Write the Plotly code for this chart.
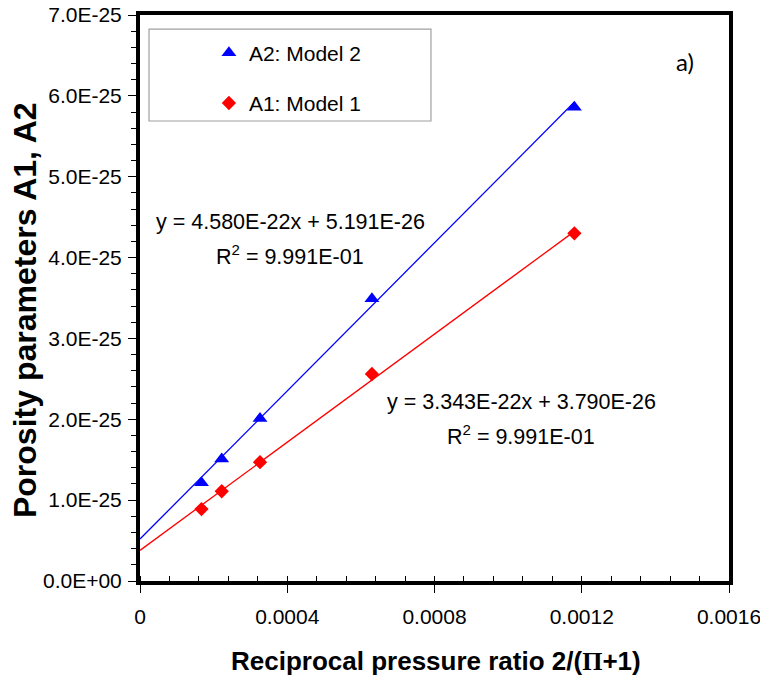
import plotly.graph_objects as go

# reciprocal pressure ratio 2/(Pi+1)
x_vals = [0.000167, 0.000222, 0.000326, 0.000630, 0.001180]

# porosity parameters
a2_vals = [1.215e-25, 1.51e-25, 2.01e-25, 3.49e-25, 5.86e-25]
a1_vals = [0.89e-25, 1.11e-25, 1.47e-25, 2.56e-25, 4.30e-25]

# linear trendlines as printed on the chart
a2_slope, a2_icpt = 4.580e-22, 5.191e-26
a1_slope, a1_icpt = 3.343e-22, 3.790e-26

x_ticks = [0, 0.0004, 0.0008, 0.0012, 0.0016]
x_labels = ["0", "0.0004", "0.0008", "0.0012", "0.0016"]
y_ticks = [i * 1e-25 for i in range(8)]
y_labels = ["0.0E+00", "1.0E-25", "2.0E-25", "3.0E-25", "4.0E-25",
            "5.0E-25", "6.0E-25", "7.0E-25"]

FONT = "Liberation Sans, Arial, sans-serif"
BLUE = "#0000ff"
RED = "#ff0000"

line_x = [0, max(x_vals)]

fig = go.Figure()

fig.add_trace(go.Scatter(x=line_x, y=[a2_icpt + a2_slope * v for v in line_x],
                         mode="lines", line=dict(color=BLUE, width=1.3),
                         showlegend=False, hoverinfo="skip"))
fig.add_trace(go.Scatter(x=line_x, y=[a1_icpt + a1_slope * v for v in line_x],
                         mode="lines", line=dict(color=RED, width=1.3),
                         showlegend=False, hoverinfo="skip"))

fig.add_trace(go.Scatter(x=x_vals, y=a2_vals, mode="markers", name="A2: Model 2",
                         legendgroup="a2",
                         marker=dict(symbol="triangle-up", size=13, color=BLUE)))
fig.add_trace(go.Scatter(x=x_vals, y=a1_vals, mode="markers", name="A1: Model 1",
                         legendgroup="a1",
                         marker=dict(symbol="diamond", size=11, color=RED)))

# equation labels
eq_font = dict(family=FONT, size=21.5, color="black")
fig.add_annotation(x=0.000408, y=4.44e-25, text="y = 4.580E-22x + 5.191E-26",
                   showarrow=False, font=eq_font)
fig.add_annotation(x=0.000408, y=4.03e-25, text="R<sup>2</sup> = 9.991E-01",
                   showarrow=False, font=eq_font)
fig.add_annotation(x=0.001035, y=2.214e-25, text="y = 3.343E-22x + 3.790E-26",
                   showarrow=False, font=eq_font)
fig.add_annotation(x=0.001035, y=1.806e-25, text="R<sup>2</sup> = 9.991E-01",
                   showarrow=False, font=eq_font)
fig.add_annotation(x=0.001481, y=6.42e-25, text="a)", showarrow=False,
                   font=dict(family="Lato, Open Sans, sans-serif", size=24, color="black"))

# axis titles
fig.add_annotation(xref="paper", yref="paper", x=-0.1952, y=0.4788,
                   xanchor="center", yanchor="middle",
                   text="<b>Porosity parameters A1, A2</b>", textangle=-90,
                   showarrow=False, font=dict(family=FONT, size=32, color="black"))
fig.add_annotation(xref="paper", yref="paper", x=0.5025, y=-0.1413,
                   xanchor="center", yanchor="middle",
                   text="<b>Reciprocal pressure ratio 2/(<span style='font-family:Liberation Serif'>\u03a0</span>+1)</b>",
                   showarrow=False, font=dict(family=FONT, size=26, color="black"))

# legend frame
fig.add_shape(type="rect", xref="paper", yref="paper",
              x0=0.0153, x1=0.494, y0=0.8127, y1=0.975,
              line=dict(color="#a0a0a0", width=1.2), fillcolor="white", layer="below")

fig.update_layout(
    width=760, height=680, autosize=False,
    margin=dict(l=140, r=31, t=15, b=99, autoexpand=False),
    paper_bgcolor="white", plot_bgcolor="white",
    font=dict(family=FONT, size=21, color="black"),
    showlegend=True,
    legend=dict(x=0.117, y=0.969, xanchor="left", yanchor="top",
                bgcolor="rgba(0,0,0,0)", borderwidth=0,
                font=dict(family=FONT, size=21), tracegroupgap=20),
)

fig.update_xaxes(range=[0, 0.0016], tickvals=x_ticks, ticktext=x_labels,
                 showgrid=False, zeroline=False, automargin=False,
                 ticklabeloverflow="allow",
                 showline=True, linecolor="black", linewidth=4, mirror=True,
                 ticks="outside", ticklen=8, tickwidth=1, tickcolor="black",
                 ticklabelstandoff=6,
                 minor=dict(dtick=0.00008, ticks="inside", ticklen=5,
                            tickcolor="black", tickwidth=1, showgrid=False))
fig.update_yaxes(range=[0, 7e-25], tickvals=y_ticks, ticktext=y_labels,
                 showgrid=False, zeroline=False, automargin=False,
                 ticklabeloverflow="allow",
                 showline=True, linecolor="black", linewidth=4, mirror=True,
                 ticks="outside", ticklen=8, tickwidth=1, tickcolor="black",
                 ticklabelstandoff=2,
                 minor=dict(dtick=0.2e-25, ticks="outside", ticklen=5,
                            tickcolor="black", tickwidth=1, showgrid=False))

# drop the default 8px body margin so the figure sits at the page corner
fig.write_html("out.html", config={"displayModeBar": False},
               post_script="document.body.style.margin = '0';")
